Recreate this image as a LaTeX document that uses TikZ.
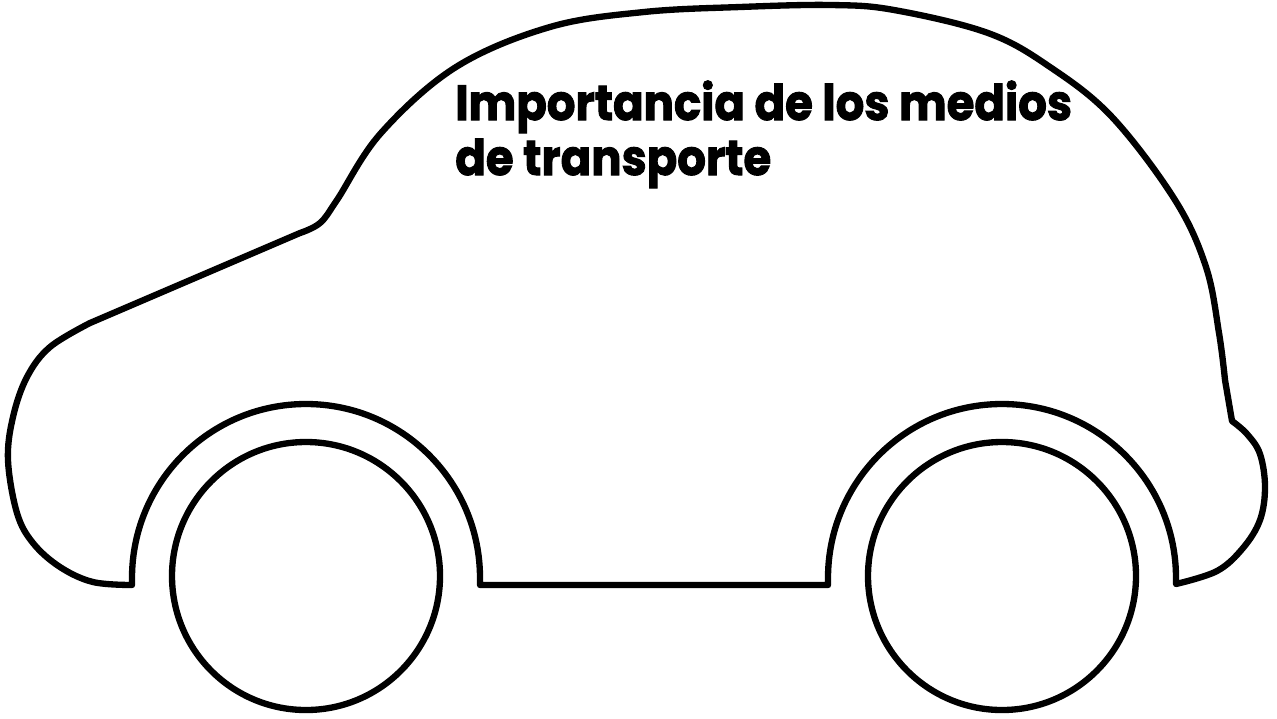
\documentclass[tikz,border=0pt]{standalone}
\usepackage{fontspec}
\setmainfont{Poppins}[BoldFeatures={FakeBold=2}]
\usetikzlibrary{positioning}
\tikzstyle {car line} = [line width=3.6pt, line join=round]
\tikzset{title text/.style = {font=\bfseries\fontsize{28}{34}\selectfont,
            anchor=base west, inner sep=0pt, xscale=0.915, transform shape}}

\begin{document}
\begin{tikzpicture}[x=0.02cm, y=-0.02cm]
            \useasboundingbox (0,0) rectangle (1277,718);
            % body with both wheel arches
            \draw[car line] (132,585) -- (132,578)
                arc[start angle=180, end angle=360, radius=174] -- (480,585)
                -- (828,585) -- (828,578)
                arc[start angle=180, end angle=360, radius=174] -- (1176,584)
                -- plot[smooth, tension=0.6] coordinates {(1176,584) (1217,571) (1243,548)
                    (1260,520) (1265,487) (1260,454) (1247,434) (1232,421)}
                -- plot[smooth, tension=0.6] coordinates {(1225,380) (1219,333) (1206,267)
                    (1175,200) (1112,117) (1050,67) (988,33) (894,10) (831,5) (740,7)
                    (644,12) (550,27) (456,67) (381,133) (337,200) (320,223) (300,233)}
                -- plot[smooth, tension=0.6] coordinates {(90,323) (50,347) (27,377)
                    (13,417) (8,460) (17,513) (33,543) (60,567) (93,582) (132,585)}
                -- cycle;
            % wheels
            \draw[car line] (306,576) circle[radius=134];
            \draw[car line] (1002,576) circle[radius=134];
            % title
            \node[title text] (title1) at (455,120) {Importancia de los medios};
            \node[title text] (title2) at (455,175) {de transporte};
        \end{tikzpicture}
\end{document}
